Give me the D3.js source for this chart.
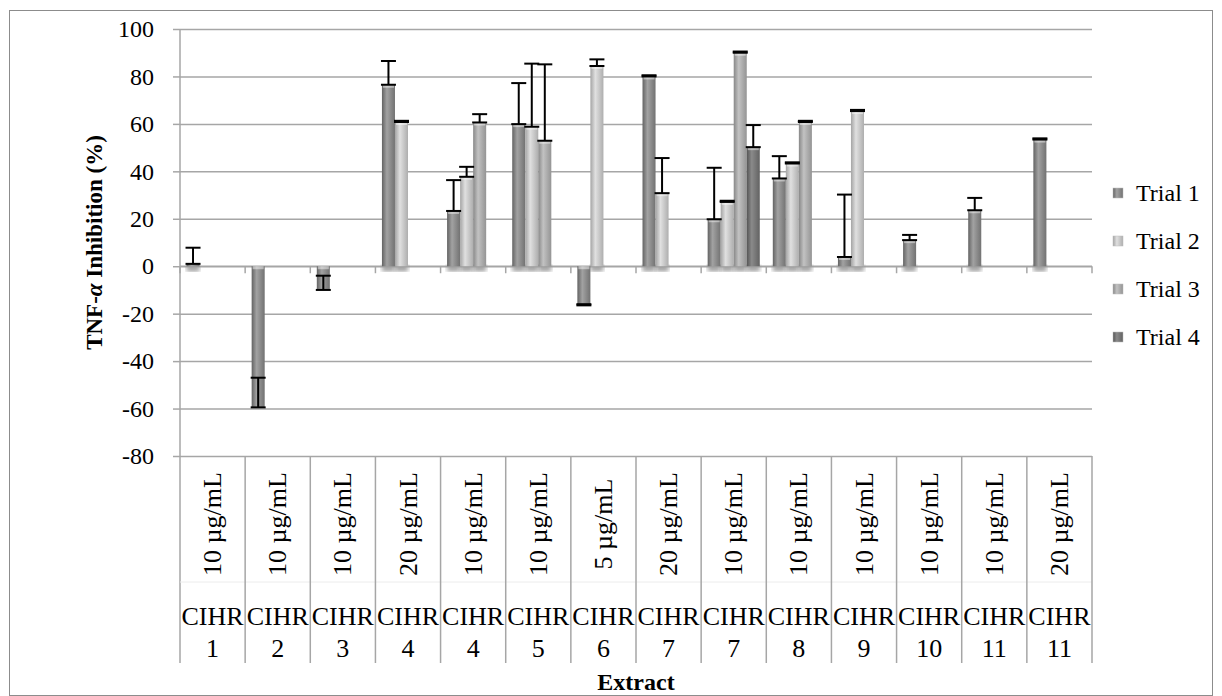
<!DOCTYPE html>
<html>
<head>
<meta charset="utf-8">
<script src="https://cdn.jsdelivr.net/npm/d3@7"></script>
<style>
  body { margin: 0; background: #fff; }
  svg text { font-family: "Liberation Serif", "DejaVu Serif", serif !important; fill: #000; }
</style>
</head>
<body>
<div id="chart"></div>
<script>
// category labels (two levels)
const extracts = ["CIHR 1", "CIHR 2", "CIHR 3", "CIHR 4", "CIHR 4", "CIHR 5", "CIHR 6",
  "CIHR 7", "CIHR 7", "CIHR 8", "CIHR 9", "CIHR 10", "CIHR 11", "CIHR 11"];
const doses = ["10 µg/mL", "10 µg/mL", "10 µg/mL", "20 µg/mL", "10 µg/mL", "10 µg/mL", "5 µg/mL",
  "20 µg/mL", "10 µg/mL", "10 µg/mL", "10 µg/mL", "10 µg/mL", "10 µg/mL", "20 µg/mL"];
const trials = ["Trial 1", "Trial 2", "Trial 3", "Trial 4"];

// values (null = no bar)
const trial1 = [1, -59.5, -10, 76.5, 23.3, 59.9, -16.5, 80.0, 19.8, 37.0, 3.9, 11.0, 23.6, 53.4];
const trial2 = [null, null, null, 60.8, 37.7, 58.8, 84.4, 30.8, 27.1, 43.3, 65.4, null, null, null];
const trial3 = [null, null, null, null, 60.6, 52.9, null, null, 90.0, 60.8, null, null, null, null];
const trial4 = [null, null, null, null, null, null, null, null, 50.2, null, null, null, null, null];

// error bars (plus direction)
const err1 = [6.8, 12.5, 6, 10, 13, 17.3, 0.5, 0.5, 21.7, 9.4, 26.3, 2.2, 5.2, 0.5];
const err2 = [null, null, null, 0.5, 4.2, 26.6, 2.8, 14.8, 0.5, 0.5, 0.5, null, null, null];
const err3 = [null, null, null, null, 3.5, 32.2, null, null, 0.5, 0.5, null, null, null, null];
const err4 = [null, null, null, null, null, null, null, null, 9.3, null, null, null, null, null];

const yTicks = [-80, -60, -40, -20, 0, 20, 40, 60, 80, 100];

const values = [trial1, trial2, trial3, trial4];
const errors = [err1, err2, err3, err4];

const width = 1222, height = 696;
const plot = { left: 180, right: 1092, top: 29, bottom: 456 };
const serif = "Liberation Serif, DejaVu Serif, serif";

const svg = d3.select("#chart").append("svg")
  .attr("width", width)
  .attr("height", height)
  .attr("font-family", serif);

// gradients for the bars: dark edges, lighter middle
const shades = [
  ["#636363", "#a2a2a2", "#727272"],
  ["#a4a4a4", "#e0e0e0", "#aeaeae"],
  ["#888888", "#c2c2c2", "#949494"],
  ["#555555", "#8a8a8a", "#626262"]
];
const defs = svg.append("defs");
shades.forEach((s, i) => {
  const g = defs.append("linearGradient").attr("id", "grad" + i)
    .attr("x1", "0%").attr("x2", "100%").attr("y1", "0%").attr("y2", "0%");
  g.append("stop").attr("offset", "0%").attr("stop-color", s[0]);
  g.append("stop").attr("offset", "38%").attr("stop-color", s[1]);
  g.append("stop").attr("offset", "100%").attr("stop-color", s[2]);
});
defs.append("filter").attr("id", "blur")
  .append("feGaussianBlur").attr("stdDeviation", 2);

// outer frame
svg.append("rect")
  .attr("x", 9.5).attr("y", 10.5)
  .attr("width", 1203).attr("height", 685)
  .attr("fill", "none").attr("stroke", "#8c8c8c").attr("stroke-width", 1);

// scales
const y = d3.scaleLinear().domain([-80, 100]).range([plot.bottom, plot.top]);
const x0 = d3.scaleBand().domain(d3.range(extracts.length))
  .range([plot.left, plot.right]).padding(0);
const x1 = d3.scaleBand().domain(trials).range([0, x0.bandwidth()])
  .paddingInner(0).paddingOuter(0.5);

// gridlines
svg.append("g")
  .attr("transform", `translate(${plot.left},0)`)
  .call(d3.axisLeft(y).tickValues(yTicks).tickSize(-(plot.right - plot.left)).tickFormat(""))
  .call(g => g.select(".domain").remove())
  .call(g => g.selectAll("line").attr("stroke", "#a6a6a6").attr("stroke-width", 1.5));

// y axis with labels (plain hyphen for negatives)
svg.append("g")
  .attr("transform", `translate(${plot.left},0)`)
  .call(d3.axisLeft(y).tickValues(yTicks).tickSize(7).tickPadding(19).tickSizeOuter(0)
    .tickFormat(d => String(d)))
  .call(g => g.attr("font-family", serif).attr("font-size", 24))
  .call(g => g.select(".domain").remove())
  .call(g => g.selectAll("line").attr("stroke", "#a6a6a6").attr("stroke-width", 1.5))
  .call(g => g.selectAll("text").attr("fill", "#000"));

// y axis line, down through the label table
svg.append("line")
  .attr("x1", plot.left).attr("x2", plot.left)
  .attr("y1", plot.top).attr("y2", 663)
  .attr("stroke", "#a6a6a6").attr("stroke-width", 1.5);

// category axis at zero with tick marks at boundaries
const bounds = d3.range(extracts.length).map(i => x0(i)).concat([plot.right]);
svg.append("line")
  .attr("x1", plot.left).attr("x2", plot.right)
  .attr("y1", y(0)).attr("y2", y(0))
  .attr("stroke", "#a6a6a6").attr("stroke-width", 1.5);
svg.append("g").selectAll("line")
  .data(bounds)
  .join("line")
  .attr("x1", d => d).attr("x2", d => d)
  .attr("y1", y(0)).attr("y2", y(0) + 7)
  .attr("stroke", "#a6a6a6").attr("stroke-width", 1.5);

// bars
const barData = [];
values.forEach((arr, s) => arr.forEach((v, i) => {
  if (v !== null) barData.push({ s, i, v, e: errors[s][i] });
}));

// soft shadow under the bars
svg.append("g").selectAll("rect")
  .data(barData.filter(d => d.v > 0))
  .join("rect")
  .attr("x", d => x0(d.i) + x1(trials[d.s]))
  .attr("y", y(0) - 1)
  .attr("width", x1.bandwidth())
  .attr("height", 6)
  .attr("fill", "#9a9a9a")
  .attr("filter", "url(#blur)");

svg.append("g").selectAll("rect")
  .data(barData)
  .join("rect")
  .attr("x", d => x0(d.i) + x1(trials[d.s]))
  .attr("y", d => y(Math.max(0, d.v)))
  .attr("width", x1.bandwidth())
  .attr("height", d => Math.abs(y(d.v) - y(0)))
  .attr("fill", d => `url(#grad${d.s})`);

// light cap at the bar ends
svg.append("g").selectAll("rect")
  .data(barData.filter(d => Math.abs(d.v) > 2))
  .join("rect")
  .attr("x", d => x0(d.i) + x1(trials[d.s]) + 1)
  .attr("y", d => d.v > 0 ? y(d.v) : y(0))
  .attr("width", x1.bandwidth() - 2)
  .attr("height", 3)
  .attr("fill", "#ffffff").attr("opacity", 0.45);

// error bars
const eb = svg.append("g").attr("stroke", "#000").attr("stroke-width", 2);
const capW = 15;
barData.filter(d => d.e !== null).forEach(d => {
  const cx = x0(d.i) + x1(trials[d.s]) + x1.bandwidth() / 2;
  const ya = y(d.v), yb = y(d.v + d.e);
  eb.append("line").attr("x1", cx).attr("x2", cx).attr("y1", ya).attr("y2", yb);
  eb.append("line").attr("x1", cx - capW / 2).attr("x2", cx + capW / 2).attr("y1", ya).attr("y2", ya);
  eb.append("line").attr("x1", cx - capW / 2).attr("x2", cx + capW / 2).attr("y1", yb).attr("y2", yb);
});

// label table below the plot
svg.append("line")
  .attr("x1", plot.left).attr("x2", plot.right)
  .attr("y1", 582).attr("y2", 582)
  .attr("stroke", "#ececec").attr("stroke-width", 1);
svg.append("g").selectAll("line")
  .data(bounds.slice(1))
  .join("line")
  .attr("x1", d => d).attr("x2", d => d)
  .attr("y1", plot.bottom).attr("y2", 663)
  .attr("stroke", "#a6a6a6").attr("stroke-width", 1.5);

const cats = svg.append("g").attr("font-size", 26).attr("text-anchor", "middle");
cats.selectAll("text.dose")
  .data(doses)
  .join("text")
  .attr("class", "dose")
  .attr("transform", (d, i) => `translate(${x0(i) + x0.bandwidth() / 2},524) rotate(-90)`)
  .attr("dominant-baseline", "central")
  .text(d => d);
cats.selectAll("text.name")
  .data(extracts)
  .join("text")
  .attr("class", "name")
  .attr("x", (d, i) => x0(i) + x0.bandwidth() / 2)
  .attr("y", 625)
  .text(d => d.split(" ")[0]);
cats.selectAll("text.num")
  .data(extracts)
  .join("text")
  .attr("class", "num")
  .attr("x", (d, i) => x0(i) + x0.bandwidth() / 2)
  .attr("y", 657)
  .text(d => d.split(" ")[1]);

// axis titles
svg.append("text")
  .attr("x", (plot.left + plot.right) / 2)
  .attr("y", 690)
  .attr("text-anchor", "middle")
  .attr("font-size", 24).attr("font-weight", "bold")
  .text("Extract");

const yt = svg.append("text")
  .attr("transform", `translate(94,${(plot.top + plot.bottom) / 2}) rotate(-90)`)
  .attr("text-anchor", "middle")
  .attr("dominant-baseline", "central")
  .attr("font-size", 23).attr("font-weight", "bold");
yt.append("tspan").text("TNF-");
yt.append("tspan").attr("font-style", "italic").text("α");
yt.append("tspan").text(" Inhibition (%)");

// legend
const legend = svg.append("g").selectAll("g")
  .data(trials)
  .join("g")
  .attr("transform", (d, i) => `translate(1113,${193 + i * 48})`);
legend.append("rect")
  .attr("x", 0).attr("y", -5).attr("width", 10).attr("height", 10)
  .attr("fill", (d, i) => `url(#grad${i})`)
  .attr("stroke", "#bdbdbd").attr("stroke-width", 0.5);
legend.append("text")
  .attr("x", 23).attr("y", 0)
  .attr("dominant-baseline", "central")
  .attr("font-size", 24)
  .text(d => d);
</script>
</body>
</html>
